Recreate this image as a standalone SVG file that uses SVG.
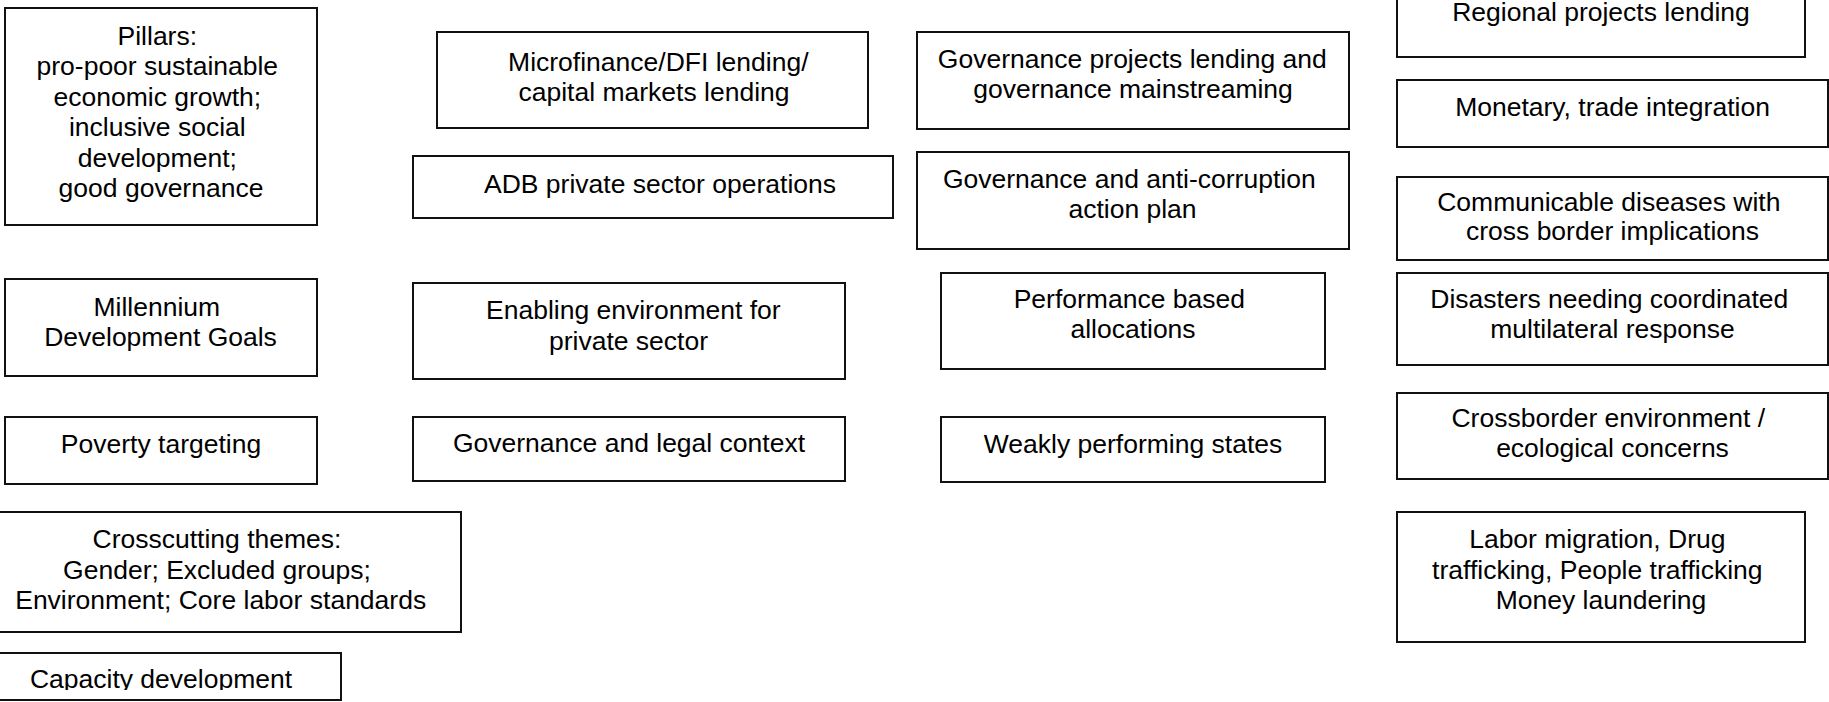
<svg xmlns="http://www.w3.org/2000/svg" width="1829" height="702" viewBox="0 0 1829 702">
  <style>
    .box { fill: #ffffff; stroke: #111111; stroke-width: 2; }
    .lbl { font-family: "Liberation Sans", Arial, sans-serif; font-size: 26.5px; fill: #000000; text-anchor: middle; }
  </style>
  <defs>
    <clipPath id="capClip">
      <rect x="-30" y="600" width="400" height="90"/>
    </clipPath>
  </defs>
  <rect x="0" y="0" width="1829" height="702" fill="#ffffff"/>

  <!-- column 1: pillars and themes -->
  <g id="pillars">
    <rect class="box" x="5" y="8" width="312" height="217"/>
    <text class="lbl">
      <tspan x="161" y="44.5">Pillars:</tspan>
      <tspan x="161" y="75">pro-poor sustainable</tspan>
      <tspan x="161" y="105.5">economic growth;</tspan>
      <tspan x="161" y="136">inclusive social</tspan>
      <tspan x="161" y="166.5">development;</tspan>
      <tspan x="161" y="197">good governance</tspan>
    </text>
  </g>
  <g id="mdg">
    <rect class="box" x="5" y="279" width="312" height="97"/>
    <text class="lbl">
      <tspan x="160.5" y="316">Millennium</tspan>
      <tspan x="160.5" y="346">Development Goals</tspan>
    </text>
  </g>
  <g id="poverty">
    <rect class="box" x="5" y="417" width="312" height="67"/>
    <text class="lbl" x="161" y="452.5">Poverty targeting</text>
  </g>
  <g id="crosscutting">
    <rect class="box" x="-20" y="512" width="481" height="120"/>
    <text class="lbl">
      <tspan x="220.7" y="548">Crosscutting themes:</tspan>
      <tspan x="220.7" y="578.5">Gender; Excluded groups;</tspan>
      <tspan x="220.7" y="609">Environment; Core labor standards</tspan>
    </text>
  </g>
  <g id="capacity">
    <rect class="box" x="-20" y="653" width="361" height="47"/>
    <text class="lbl" x="161" y="688" clip-path="url(#capClip)">Capacity development</text>
  </g>

  <!-- column 2: private sector -->
  <g id="microfinance">
    <rect class="box" x="437" y="32" width="431" height="96"/>
    <text class="lbl">
      <tspan x="662" y="70.5">Microfinance/DFI lending/</tspan>
      <tspan x="654" y="100.5">capital markets lending</tspan>
    </text>
  </g>
  <g id="adb-pso">
    <rect class="box" x="413" y="156" width="480" height="62"/>
    <text class="lbl" x="660" y="192.5">ADB private sector operations</text>
  </g>
  <g id="enabling">
    <rect class="box" x="413" y="283" width="432" height="96"/>
    <text class="lbl">
      <tspan x="637" y="319">Enabling environment for</tspan>
      <tspan x="628.5" y="349.5">private sector</tspan>
    </text>
  </g>
  <g id="legal">
    <rect class="box" x="413" y="417" width="432" height="64"/>
    <text class="lbl" x="629" y="452">Governance and legal context</text>
  </g>

  <!-- column 3: governance -->
  <g id="gov-projects">
    <rect class="box" x="917" y="32" width="432" height="97"/>
    <text class="lbl">
      <tspan x="1136" y="68">Governance projects lending and</tspan>
      <tspan x="1133" y="98">governance mainstreaming</tspan>
    </text>
  </g>
  <g id="gacap">
    <rect class="box" x="917" y="152" width="432" height="97"/>
    <text class="lbl">
      <tspan x="1133" y="187.5">Governance and anti-corruption</tspan>
      <tspan x="1132.5" y="217.5">action plan</tspan>
    </text>
  </g>
  <g id="pba">
    <rect class="box" x="941" y="273" width="384" height="96"/>
    <text class="lbl">
      <tspan x="1133" y="307.5">Performance based</tspan>
      <tspan x="1133" y="338">allocations</tspan>
    </text>
  </g>
  <g id="weak-states">
    <rect class="box" x="941" y="417" width="384" height="65"/>
    <text class="lbl" x="1133" y="452.5">Weakly performing states</text>
  </g>

  <!-- column 4: regional cooperation -->
  <g id="regional">
    <rect class="box" x="1397" y="-40" width="408" height="97"/>
    <text class="lbl" x="1601" y="20.5">Regional projects lending</text>
  </g>
  <g id="monetary">
    <rect class="box" x="1397" y="80" width="431" height="67"/>
    <text class="lbl" x="1612.5" y="115.5">Monetary, trade integration</text>
  </g>
  <g id="diseases">
    <rect class="box" x="1397" y="177" width="431" height="83"/>
    <text class="lbl">
      <tspan x="1612.5" y="211">Communicable diseases with</tspan>
      <tspan x="1612.5" y="240">cross border implications</tspan>
    </text>
  </g>
  <g id="disasters">
    <rect class="box" x="1397" y="273" width="431" height="92"/>
    <text class="lbl">
      <tspan x="1613" y="307.5">Disasters needing coordinated</tspan>
      <tspan x="1612.5" y="338">multilateral response</tspan>
    </text>
  </g>
  <g id="crossborder">
    <rect class="box" x="1397" y="393" width="431" height="86"/>
    <text class="lbl">
      <tspan x="1612" y="427">Crossborder environment /</tspan>
      <tspan x="1612.5" y="457">ecological concerns</tspan>
    </text>
  </g>
  <g id="migration">
    <rect class="box" x="1397" y="512" width="408" height="130"/>
    <text class="lbl">
      <tspan x="1601" y="548">Labor migration, Drug</tspan>
      <tspan x="1601" y="578.5">trafficking, People trafficking</tspan>
      <tspan x="1601" y="609">Money laundering</tspan>
    </text>
  </g>

  <g id="connectors"/>
</svg>
